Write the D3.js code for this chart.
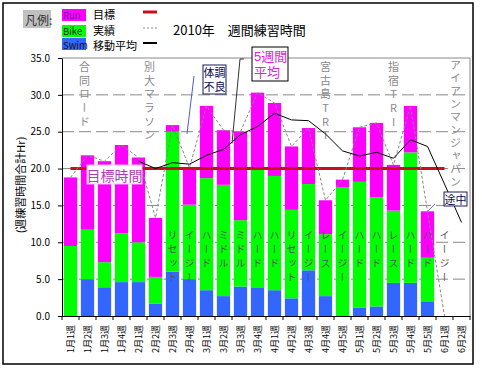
<!DOCTYPE html>
<html>
<head>
<meta charset="utf-8">
<script src="https://cdn.jsdelivr.net/npm/d3@7"></script>
<style>
  body { margin: 0; background: #fff; }
  text { font-family: "Noto Sans CJK JP", sans-serif; }
  .vert { writing-mode: vertical-rl; text-orientation: upright; }
  .note { font-family: "Liberation Sans", "Noto Sans CJK JP", sans-serif; }
</style>
</head>
<body>
<div id="chart"></div>
<script>
// DATA ===========================================================================================
const weeks = ['1月1週','1月2週','1月3週','1月4週','2月1週','2月2週','2月3週','2月4週',
  '3月1週','3月2週','3月3週','3月4週','4月1週','4月2週','4月3週','4月4週','4月5週',
  '5月1週','5月2週','5月3週','5月4週','5月5週','6月1週','6月2週']

const swim = [0, 5.0, 3.9, 4.6, 4.6, 1.7, 6.0, 5.0, 3.5, 2.7, 4.0, 3.8, 3.5, 2.4, 6.2, 2.7, 0, 1.1, 1.3, 4.5, 4.5, 2.0, 0, 0]
const bike = [9.5, 6.7, 3.4, 6.6, 5.4, 3.6, 19.0, 10.1, 15.2, 15.1, 9.0, 16.3, 15.5, 12.0, 11.7, 8.4, 17.5, 17.1, 14.8, 9.8, 17.7, 5.9, 0, 0]
const run  = [9.3, 10.1, 13.7, 12.0, 11.5, 8.0, 0.9, 5.0, 9.8, 7.4, 12.0, 10.2, 9.9, 8.6, 7.6, 4.6, 1.0, 7.4, 10.1, 6.2, 6.3, 6.3, 0, 0]

// 実績 (total per week), 目標, 5週移動平均
const actual = [18.8, 21.8, 21.0, 23.2, 21.5, 13.3, 25.9, 20.1, 28.5, 25.2, 25.0, 30.3, 28.9, 23.0, 25.5, 15.7, 18.5, 25.6, 26.2, 20.5, 28.5, 14.2, 0, null]
const target = [20, 20, 20, 20, 20, 20, 20, 20, 20, 20, 20, 20, 20, 20, 20, 20, 20, 20, 20, 20, 20, 20, 20, null]
const movingAvg = [null, null, null, null, 21.0, 20.0, 20.8, 20.6, 21.8, 22.6, 24.6, 25.7, 27.5, 26.6, 26.5, 24.7, 22.4, 21.7, 22.2, 21.4, 23.9, 23.0, 17.9, 12.7]

const yTicks = [0, 5, 10, 15, 20, 25, 30, 35]

// training type written inside the bars
const intensity = ['', '', '', '', '', '', 'リセット', 'イージー', 'ハード', 'ミドル', 'ミドル', 'ハード', 'ハード',
  'リセット', 'イージー', 'レース', 'イージー', 'ハード', 'ハード', 'レース', 'ハード', 'ハード', 'イージー', '']

// races written at the top of the plot
const races = [
  {week: '1月2週', name: '合同ロード'},
  {week: '2月2週', name: '別大マラソン'},
  {week: '4月4週', name: '宮古島TRI'},
  {week: '5月3週', name: '指宿TRI'},
  {week: '6月2週', name: 'アイアンマンジャパン'}
]

// SET UP =========================================================================================
const width = 482
const height = 376
const plot = {left: 62, right: 470, top: 58, bottom: 316}

const svg = d3.select('#chart')
  .append('svg')
  .attr('width', width)
  .attr('height', height)

svg.append('rect')
  .attr('x', 3).attr('y', 3)
  .attr('width', 470).attr('height', 361)
  .attr('fill', '#fff')
  .attr('stroke', '#000')
  .attr('stroke-width', 1.5)

// SCALES =========================================================================================
const x = d3.scaleBand()
  .domain(weeks)
  .range([plot.left, plot.right])
  .paddingInner(0.22)
  .paddingOuter(0.11)
const xc = i => x(weeks[i]) + x.bandwidth() / 2

const y = d3.scaleLinear()
  .domain([0, 35])
  .range([plot.bottom, plot.top])

// GRID ===========================================================================================
svg.append('g')
  .selectAll('line')
  .data(yTicks.filter(t => t > 0 && t < 35))
  .join('line')
    .attr('x1', plot.left).attr('x2', plot.right)
    .attr('y1', d => y(d)).attr('y2', d => y(d))
    .attr('stroke', '#888')
    .attr('stroke-dasharray', '12,5')

svg.append('path')
  .attr('d', `M${plot.left},${y(35)}H${plot.right}V${plot.bottom}`)
  .attr('fill', 'none')
  .attr('stroke', '#888')

// BARS ===========================================================================================
const colors = {swim: '#3366ff', bike: '#00ff00', run: '#ff00ff'}
const table = weeks.map((w, i) => ({week: w, swim: swim[i], bike: bike[i], run: run[i]}))
const series = d3.stack().keys(['swim', 'bike', 'run'])(table)

svg.append('g')
  .selectAll('g')
  .data(series)
  .join('g')
    .attr('fill', d => colors[d.key])
  .selectAll('rect')
  .data(d => d)
  .join('rect')
    .attr('x', d => x(d.data.week))
    .attr('y', d => y(d[1]))
    .attr('height', d => y(d[0]) - y(d[1]))
    .attr('width', x.bandwidth())

// vertical (tategaki) text, first character centred at (cx, y0), advance = step
function vtext(g, str, cx, y0, step, size) {
  g.append('text')
    .attr('class', 'vert')
    .attr('x', cx)
    .attr('y', y0 - size / 2)
    .attr('font-size', size)
    .attr('letter-spacing', step - size)
    .text(str)
}

const inBar = svg.append('g').attr('fill', '#555')
intensity.forEach((s, i) => { if (s) vtext(inBar, s, xc(i), 235, 14, 10) })

const raceG = svg.append('g').attr('fill', '#8a8a8a')
const raceShift = {'1月2週': -3, '2月2週': -6, '6月2週': -6}
races.forEach(r => {
  const i = weeks.indexOf(r.week)
  const long = r.name.length > 8
  vtext(raceG, r.name, xc(i) + (raceShift[r.week] || 0), long ? 65 : 67, long ? 13 : 13.6, 11)
})

// LINES ==========================================================================================
const line = d3.line()
  .defined(d => d != null)
  .x((d, i) => xc(i))
  .y(d => y(d))

svg.append('path')
  .datum(target)
  .attr('d', line)
  .attr('fill', 'none')
  .attr('stroke', '#c8101a')
  .attr('stroke-width', 3)

svg.append('path')
  .datum(actual)
  .attr('d', line)
  .attr('fill', 'none')
  .attr('stroke', '#888')
  .attr('stroke-dasharray', '3,2')

svg.append('path')
  .datum(movingAvg)
  .attr('d', line)
  .attr('fill', 'none')
  .attr('stroke', '#000')
  .attr('stroke-width', 1)

// AXES ===========================================================================================
const yAxis = svg.append('g')
  .attr('transform', `translate(${plot.left},0)`)
  .call(d3.axisLeft(y).tickValues(yTicks).tickFormat(d3.format('.1f')).tickSize(4).tickSizeOuter(0).tickPadding(8))
yAxis.selectAll('text')
  .attr('font-family', '"Liberation Sans", Arial, sans-serif')
  .attr('font-size', 10)
  .attr('fill', '#000')

const xAxis = svg.append('g')
  .attr('transform', `translate(0,${plot.bottom})`)
  .call(d3.axisBottom(x).tickSize(0).tickSizeOuter(0))
xAxis.selectAll('text')
  .attr('transform', 'rotate(-90)')
  .attr('x', -9)
  .attr('y', 0)
  .attr('dy', '0.35em')
  .attr('text-anchor', 'end')
  .attr('font-family', '"Noto Sans CJK JP", sans-serif')
  .attr('font-size', 9)
  .attr('fill', '#000')
xAxis.select('.domain').attr('stroke-width', 1.2)

// category boundary ticks
svg.append('g')
  .selectAll('line')
  .data(d3.range(weeks.length + 1))
  .join('line')
    .attr('x1', i => plot.left + i * x.step())
    .attr('x2', i => plot.left + i * x.step())
    .attr('y1', plot.bottom)
    .attr('y2', plot.bottom + 4)
    .attr('stroke', '#000')

svg.append('text')
  .attr('transform', 'translate(20,185) rotate(-90)')
  .attr('text-anchor', 'middle')
  .attr('dominant-baseline', 'central')
  .attr('font-size', 11)
  .text('(週練習時間合計Hr)')

// CALLOUTS =======================================================================================
// 目標時間
svg.append('rect')
  .attr('x', 87).attr('y', 165).attr('width', 55).attr('height', 19)
  .attr('fill', '#fff').attr('stroke', '#f4b8f4')
svg.append('text')
  .attr('x', 114.5).attr('y', 175)
  .attr('text-anchor', 'middle').attr('dominant-baseline', 'central')
  .attr('font-size', 14).attr('fill', '#b23cb2')
  .text('目標時間')

// 体調不良
svg.append('line')
  .attr('x1', 194).attr('y1', 76).attr('x2', 187).attr('y2', y(actual[7]) - 34)
  .attr('stroke', '#4a5fd0')
svg.append('rect')
  .attr('x', 203).attr('y', 65).attr('width', 23).attr('height', 29)
  .attr('fill', '#fff').attr('stroke', '#1a1a5a')
const sick = svg.append('text').attr('class', 'note').attr('x', 214.5).attr('y', 73).attr('text-anchor', 'middle')
  .attr('dominant-baseline', 'central').attr('font-size', 11).attr('fill', '#0a0a50')
sick.append('tspan').attr('x', 214.5).text('体調')
sick.append('tspan').attr('x', 214.5).attr('dy', 14).text('不良')

// 5週間平均
svg.append('path')
  .attr('d', `M244,59H240L${(xc(9) + xc(10)) / 2},${y(23.4)}`)
  .attr('fill', 'none').attr('stroke', '#333')
svg.append('rect')
  .attr('x', 252).attr('y', 47).attr('width', 36).attr('height', 34)
  .attr('fill', '#fff').attr('stroke', '#000')
const avgNote = svg.append('text').attr('class', 'note').attr('x', 254).attr('y', 56)
  .attr('dominant-baseline', 'central').attr('font-size', 13).attr('fill', '#e020e0')
avgNote.append('tspan').attr('x', 254).text('5週間')
avgNote.append('tspan').attr('x', 254).attr('dy', 16).text('平均')

// 途中
svg.append('line')
  .attr('x1', 435).attr('y1', 204).attr('x2', xc(21)).attr('y2', y(actual[21]))
  .attr('stroke', '#5a6ad8')
svg.append('rect')
  .attr('x', 444).attr('y', 192).attr('width', 23).attr('height', 14)
  .attr('fill', '#fff').attr('stroke', '#1a1a5a')
svg.append('text').attr('x', 455.5).attr('y', 199).attr('text-anchor', 'middle')
  .attr('dominant-baseline', 'central').attr('font-size', 11).attr('fill', '#0a0a50').text('途中')

// LEGEND & TITLE =================================================================================
svg.append('rect').attr('x', 23).attr('y', 10).attr('width', 28).attr('height', 18).attr('fill', '#c0c0c0')
svg.append('text').attr('x', 25).attr('y', 19).attr('dominant-baseline', 'central')
  .attr('font-size', 12).attr('fill', '#333').text('凡例:')

const keys = [
  {name: 'Run', fill: colors.run, text: '#6a1a9a', y: 9, ty: 15},
  {name: 'Bike', fill: colors.bike, text: '#222', y: 25, ty: 31},
  {name: 'Swim', fill: colors.swim, text: '#111', y: 38, ty: 45}
]
const leg = svg.append('g')
leg.selectAll('rect').data(keys).join('rect')
  .attr('x', 62).attr('y', d => d.y).attr('width', 24).attr('height', 12).attr('fill', d => d.fill)
leg.selectAll('text').data(keys).join('text')
  .attr('x', 63).attr('y', d => d.ty).attr('dominant-baseline', 'central')
  .attr('font-family', '"Liberation Sans", Arial, sans-serif').attr('font-size', 9.5)
  .attr('fill', d => d.text).text(d => d.name)

const lineKeys = [
  {name: '目標', y: 14, stroke: '#c8101a', w: 3, dash: null},
  {name: '実績', y: 30, stroke: '#888', w: 1, dash: '2,2'},
  {name: '移動平均', y: 45, stroke: '#000', w: 2, dash: null}
]
lineKeys.forEach(k => {
  svg.append('text').attr('x', 93).attr('y', k.y).attr('dominant-baseline', 'central')
    .attr('font-size', 11).attr('fill', '#000').text(k.name)
  svg.append('line').attr('x1', 143).attr('x2', 157).attr('y1', k.y - 2).attr('y2', k.y - 2)
    .attr('stroke', k.stroke).attr('stroke-width', k.w).attr('stroke-dasharray', k.dash)
})

svg.append('text')
  .attr('x', 173).attr('y', 29)
  .attr('dominant-baseline', 'central')
  .attr('font-size', 13)
  .text('2010年　週間練習時間')
</script>
</body>
</html>
